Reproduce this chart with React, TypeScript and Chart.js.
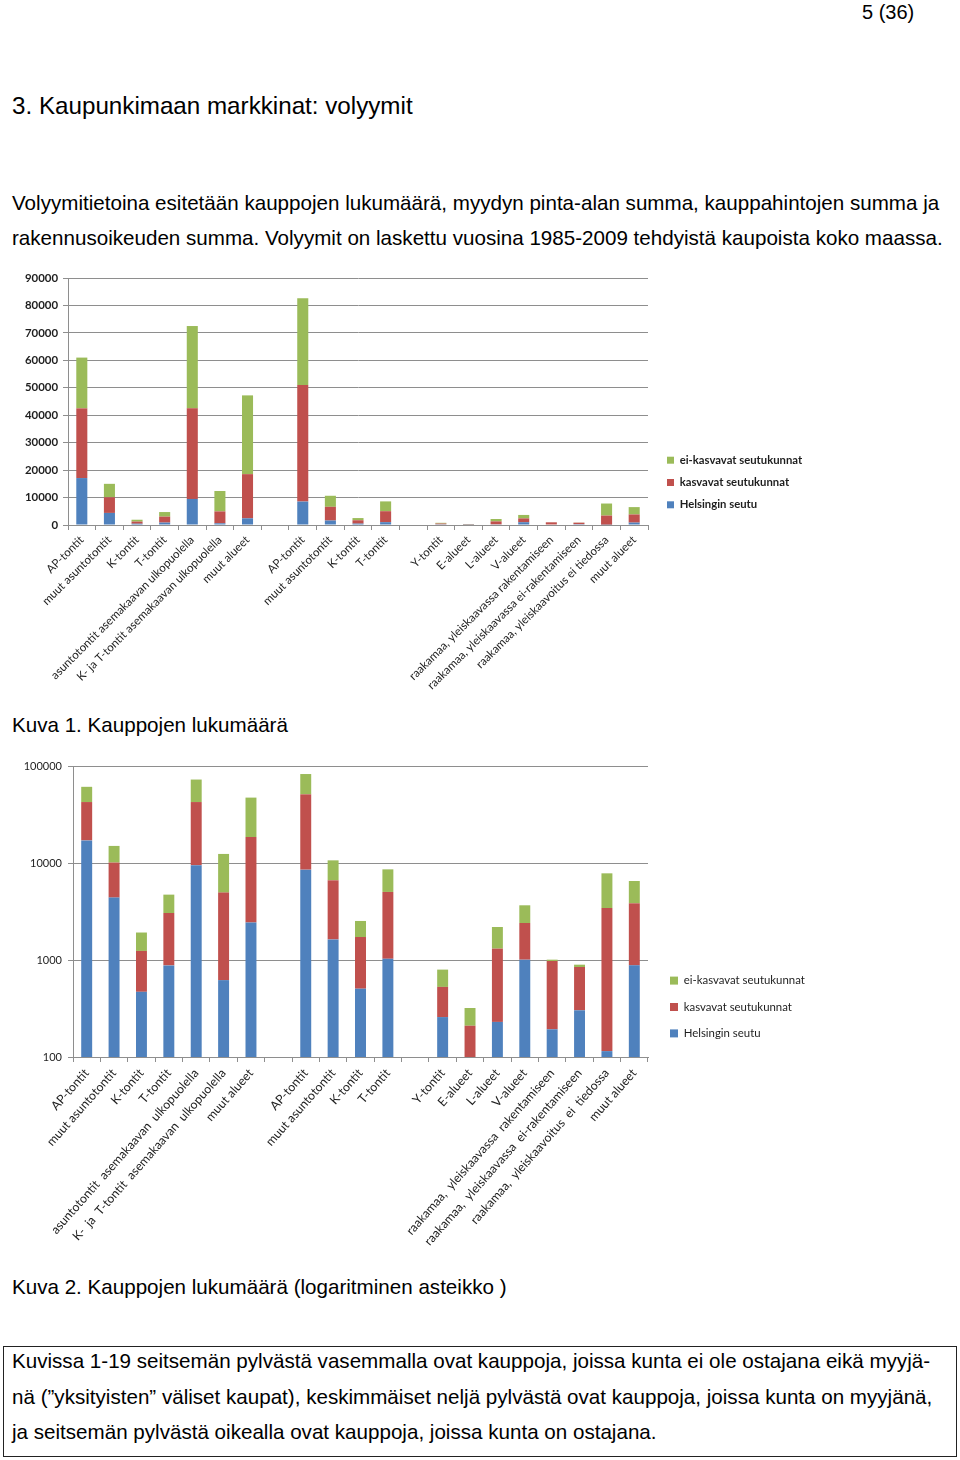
import React, { useEffect, useRef } from 'react';
import { Chart, registerables } from 'chart.js';

Chart.register(...registerables);

// ---------- data ----------
const categories = [
  'AP-tontit',
  'muut asuntotontit',
  'K-tontit',
  'T-tontit',
  'asuntotontit asemakaavan ulkopuolella',
  'K- ja T-tontit asemakaavan ulkopuolella',
  'muut alueet',
  '',
  'AP-tontit',
  'muut asuntotontit',
  'K-tontit',
  'T-tontit',
  '',
  'Y-tontit',
  'E-alueet',
  'L-alueet',
  'V-alueet',
  'raakamaa, yleiskaavassa rakentamiseen',
  'raakamaa, yleiskaavassa ei-rakentamiseen',
  'raakamaa, yleiskaavoitus ei tiedossa',
  'muut alueet',
];

const helsinginSeutu = [17100, 4400, 470, 880, 9500, 620, 2430, null, 8540, 1630, 506, 1030, null, 258, 97, 230, 1008, 193, 303, 115, 881];
const kasvavatSeutukunnat = [25400, 5700, 770, 2170, 33000, 4330, 16100, null, 42500, 5000, 1220, 4000, null, 270, 113, 1080, 1400, 784, 544, 3320, 2960];
const eiKasvavatSeutukunnat = [18500, 4900, 680, 1670, 30000, 7450, 28700, null, 31600, 4020, 800, 3570, null, 268, 110, 880, 1256, 31, 48, 4390, 2680];

const seriesNames = ['Helsingin seutu', 'kasvavat seutukunnat', 'ei-kasvavat seutukunnat'];
const seriesColors = ['#4F81BD', '#C0504D', '#9BBB59'];

const linearTicks = [0, 10000, 20000, 30000, 40000, 50000, 60000, 70000, 80000, 90000];
const logTicks = [100, 1000, 10000, 100000];

// ---------- legend placement plugin ----------
const legendPlacer: any = {
  id: 'legendPlacer',
  beforeLayout(chart: any, _args: any, opts: any) {
    const lg = chart.legend;
    if (lg && !lg.__patched) {
      const orig = lg.fit.bind(lg);
      lg.fit = function () {
        orig();
        if (opts && opts.width) this.width = opts.width;
      };
      lg.__patched = true;
    }
  },
  afterLayout(chart: any, _args: any, opts: any) {
    const lg = chart.legend;
    if (lg && opts) {
      const dx = opts.dx || 0;
      const dy = opts.dy || 0;
      lg.left += dx;
      lg.right += dx;
      lg.top += dy;
      lg.bottom += dy;
    }
  },
};

type ChartProps = {
  log: boolean;
  top: number;
  width: number;
  height: number;
  padTop: number;
  yAxisWidth: number;
  xAxisHeight: number;
  legendWidth: number;
  legendDx: number;
  legendDy: number;
  tickFont: any;
  catFont: any;
  legendFont: any;
  legendPadding: number;
  legendBox: number;
  yTickPadding: number;
  xTickPadding: number;
  wideSpaces: boolean;
  rotation: number;
};

function StackedChart(p: ChartProps) {
  const ref = useRef<HTMLCanvasElement | null>(null);

  useEffect(() => {
    if (!ref.current) return;
    const gridColor = '#8e8e8e';
    const values = [helsinginSeutu, kasvavatSeutukunnat, eiKasvavatSeutukunnat];
    const chart = new Chart(ref.current, {
      type: 'bar',
      data: {
        labels: categories,
        datasets: values.map((v, i) => ({
          label: seriesNames[i],
          data: v as any,
          backgroundColor: seriesColors[i],
          borderWidth: 0,
          barPercentage: 0.4,
          categoryPercentage: 1.0,
        })),
      },
      options: {
        animation: false,
        responsive: false,
        devicePixelRatio: 1,
        layout: { padding: { top: p.padTop, left: 0, right: 0, bottom: 0 } },
        scales: {
          x: {
            stacked: true,
            afterFit: (scale: any) => {
              scale.height = p.xAxisHeight;
            },
            ticks: {
              autoSkip: false,
              minRotation: p.rotation,
              maxRotation: p.rotation,
              padding: p.xTickPadding,
              color: '#1e1e1e',
              font: p.catFont,
              callback: function (this: any, _v: any, i: number) {
                const s = categories[i];
                return p.wideSpaces && s.length > 30 ? s.replace(/ /g, '  ') : s;
              },
            },
            grid: {
              display: true,
              drawOnChartArea: false,
              drawTicks: true,
              tickLength: 5,
              color: gridColor,
              offset: true,
            },
            border: { display: true, color: gridColor },
          },
          y: {
            type: p.log ? 'logarithmic' : 'linear',
            stacked: true,
            min: p.log ? logTicks[0] : linearTicks[0],
            max: p.log ? logTicks[logTicks.length - 1] : linearTicks[linearTicks.length - 1],
            afterBuildTicks: (scale: any) => {
              scale.ticks = (p.log ? logTicks : linearTicks).map((v) => ({ value: v }));
            },
            afterFit: (scale: any) => {
              scale.width = p.yAxisWidth;
            },
            ticks: {
              callback: (v: any) => String(v),
              color: '#1e1e1e',
              font: p.tickFont,
              padding: p.yTickPadding,
            },
            grid: { color: gridColor, tickLength: 5, lineWidth: 1 },
            border: { display: true, color: gridColor },
          },
        } as any,
        plugins: {
          tooltip: { enabled: false },
          legend: {
            position: 'right',
            align: 'center',
            reverse: true,
            labels: {
              boxWidth: p.legendBox,
              boxHeight: p.legendBox,
              padding: p.legendPadding,
              color: '#1e1e1e',
              font: p.legendFont,
            },
          },
          legendPlacer: { width: p.legendWidth, dx: p.legendDx, dy: p.legendDy },
        } as any,
      },
      plugins: [legendPlacer],
    });
    return () => chart.destroy();
  }, []);

  return (
    <canvas
      ref={ref}
      width={p.width}
      height={p.height}
      style={{ position: 'absolute', left: 0, top: p.top, width: p.width, height: p.height }}
    />
  );
}

const docFont = '"Liberation Sans", Arial, sans-serif';

function Line({ top, left, size, children }: { top: number; left: number; size: number; children: any }) {
  return (
    <div
      style={{
        position: 'absolute',
        top,
        left,
        fontSize: size,
        lineHeight: Math.round(size + 4) + 'px',
        whiteSpace: 'pre',
        fontFamily: docFont,
        color: '#000',
      }}
    >
      {children}
    </div>
  );
}

export default function App() {
  return (
    <div style={{ position: 'absolute', left: 0, top: 0, width: 960, height: 1460, background: '#fff', overflow: 'hidden' }}>
      <Line top={0} left={862} size={20}>5 (36)</Line>
      <Line top={92} left={12} size={24.2}>3. Kaupunkimaan markkinat: volyymit</Line>
      <Line top={190} left={12} size={20.6}>
        Volyymitietoina esitetään kauppojen lukumäärä, myydyn pinta-alan summa, kauppahintojen summa ja
      </Line>
      <Line top={225} left={12} size={20.6}>
        rakennusoikeuden summa. Volyymit on laskettu vuosina 1985-2009 tehdyistä kaupoista koko maassa.
      </Line>

      <StackedChart
        log={false}
        top={265}
        width={830}
        height={430}
        padTop={13}
        yAxisWidth={68}
        xAxisHeight={170}
        legendWidth={182}
        legendDx={8}
        legendDy={-4}
        tickFont={{ family: 'Lato', size: 11.4, weight: 'bold' }}
        catFont={{ family: 'Lato', size: 11.6 }}
        legendFont={{ family: 'Lato', size: 11.3, weight: 'bold' }}
        legendPadding={11}
        legendBox={7}
        yTickPadding={5}
        xTickPadding={3}
        wideSpaces={false}
        rotation={45}
      />

      <Line top={712} left={12} size={20.6}>Kuva 1. Kauppojen lukumäärä</Line>

      <StackedChart
        log={true}
        top={752}
        width={830}
        height={510}
        padTop={14}
        yAxisWidth={73}
        xAxisHeight={205}
        legendWidth={182}
        legendDx={7}
        legendDy={-7}
        tickFont={{ family: 'Lato', size: 11 }}
        catFont={{ family: 'Lato', size: 12.3 }}
        legendFont={{ family: 'Lato', size: 11.4 }}
        legendPadding={15}
        legendBox={8}
        yTickPadding={6}
        xTickPadding={4}
        wideSpaces={true}
        rotation={48.5}
      />

      <Line top={1274} left={12} size={20.6}>Kuva 2. Kauppojen lukumäärä (logaritminen asteikko )</Line>

      <div
        style={{
          position: 'absolute',
          left: 3,
          top: 1346,
          width: 952,
          height: 109,
          border: '1px solid #222',
        }}
      />
      <Line top={1348} left={12} size={20.6}>
        Kuvissa 1-19 seitsemän pylvästä vasemmalla ovat kauppoja, joissa kunta ei ole ostajana eikä myyjä-
      </Line>
      <Line top={1384} left={12} size={20.6}>
        nä (”yksityisten” väliset kaupat), keskimmäiset neljä pylvästä ovat kauppoja, joissa kunta on myyjänä,
      </Line>
      <Line top={1419} left={12} size={20.6}>
        ja seitsemän pylvästä oikealla ovat kauppoja, joissa kunta on ostajana.
      </Line>
    </div>
  );
}
